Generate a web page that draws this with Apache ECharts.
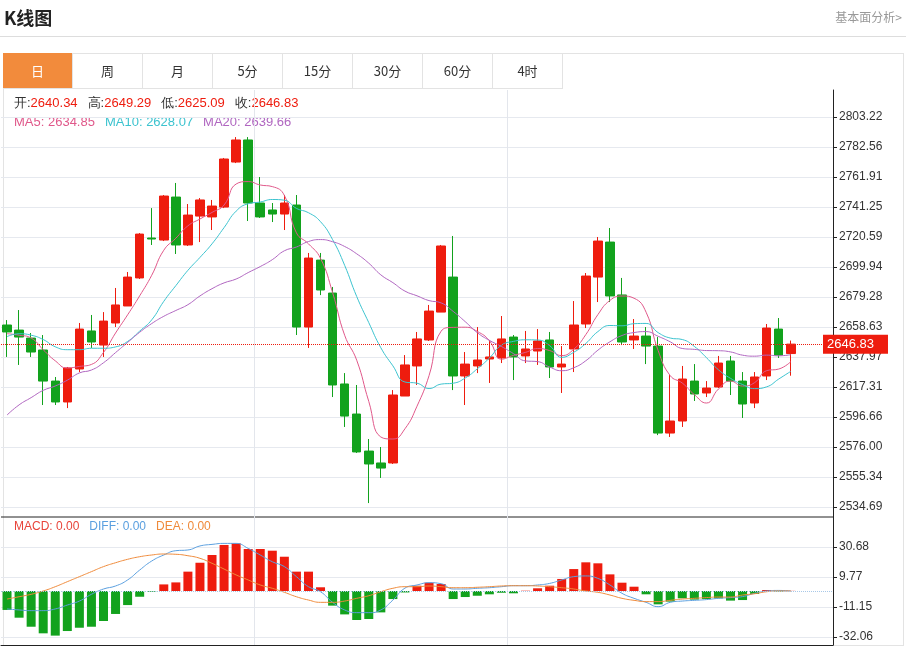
<!DOCTYPE html>
<html>
<head>
<meta charset="utf-8">
<script src="https://cdn.jsdelivr.net/npm/echarts@6/dist/echarts.min.js"></script>
<style>
  body { margin: 0; font-family: "Noto Sans CJK SC", "Microsoft YaHei", sans-serif; background: #fff; }
  #chart { position: absolute; left: 0; top: 0; width: 906px; height: 648px; }
  .title { position: absolute; left: 4px; top: 4px; font-size: 18px; font-weight: bold; color: #222; }
  .more { position: absolute; right: 4px; top: 8px; font-size: 12px; color: #999; }
  .hr { position: absolute; left: 0; top: 36px; width: 906px; border-top: 1px solid #ddd; }
  .box { position: absolute; left: 3px; top: 53px; width: 899px; height: 591px; border: 1px solid #e3e3e3; }
  .tabs { position: absolute; left: 3px; top: 53px; height: 35px; border-bottom: 1px solid #e3e3e3; display: flex; }
  .tabs div { width: 69px; border-right: 1px solid #e3e3e3; text-align: center; line-height: 35px; font-size: 13px; color: #333; }
  .tabs div.on { background: #f28b3c; color: #fff; }
</style>
</head>
<body>
<div class="box"></div>
<div id="chart"></div>
<div class="title">K线图</div>
<div class="more">基本面分析&gt;</div>
<div class="hr"></div>
<div class="tabs">
  <div class="on">日</div><div>周</div><div>月</div><div>5分</div><div>15分</div><div>30分</div><div>60分</div><div>4时</div>
</div>
<script type="text/javascript">
// open, close, low, high
var opens  = [2660.0,2656.5,2651.0,2642.8,2621.4,2607.0,2629.7,2655.9,2646.2,2661.4,2673.1,2692.4,2719.9,2718.5,2748.1,2715.1,2735.0,2734.4,2741.2,2772.2,2787.4,2744.0,2739.2,2736.4,2742.6,2658.6,2704.7,2682.0,2619.4,2598.7,2573.2,2565.0,2565.0,2611.1,2631.8,2649.7,2668.9,2693.0,2624.9,2631.8,2636.6,2637.3,2651.7,2638.7,2642.1,2649.7,2631.1,2643.5,2660.7,2693.0,2717.1,2680.7,2649.7,2652.4,2645.5,2585.6,2593.9,2621.4,2613.2,2617.3,2635.2,2621.4,2606.3,2624.9,2657.2,2640.34];
var closes = [2655.2,2651.7,2641.4,2621.4,2607.0,2630.4,2657.2,2648.3,2662.7,2673.8,2693.0,2722.6,2719.2,2748.8,2715.1,2735.7,2746.1,2741.9,2774.3,2787.4,2744.0,2734.4,2736.4,2744.0,2658.6,2706.1,2684.1,2618.7,2597.3,2572.6,2564.3,2561.5,2611.8,2632.5,2650.4,2669.6,2714.4,2624.9,2633.1,2635.9,2638.0,2650.4,2638.0,2643.5,2649.0,2631.1,2633.1,2660.0,2693.7,2717.8,2680.0,2648.3,2652.4,2645.5,2585.6,2593.9,2622.8,2612.5,2616.6,2633.8,2621.4,2605.6,2624.2,2657.9,2639.3,2646.83];
var lows   = [2638.0,2632.5,2638.0,2604.9,2604.9,2602.8,2627.6,2644.2,2638.0,2658.6,2673.1,2691.7,2715.1,2717.8,2708.9,2714.4,2717.1,2725.4,2740.5,2771.5,2731.6,2733.7,2730.9,2725.4,2653.1,2644.2,2680.6,2610.4,2589.8,2571.9,2537.4,2554.7,2564.3,2611.1,2618.7,2649.0,2668.9,2615.2,2604.9,2626.9,2620.1,2633.8,2622.1,2633.8,2632.5,2623.5,2613.2,2627.6,2657.9,2675.8,2675.8,2646.2,2643.5,2633.1,2584.2,2582.9,2589.8,2607.7,2610.4,2616.6,2611.8,2596.0,2602.8,2622.1,2637.3,2625.09];
var highs  = [2663.4,2670.3,2654.5,2653.1,2624.2,2631.1,2661.4,2666.9,2668.9,2685.5,2696.5,2723.3,2740.5,2749.5,2757.8,2743.3,2747.4,2746.1,2775.0,2789.4,2789.4,2761.9,2744.0,2749.5,2749.5,2709.6,2709.6,2686.2,2626.9,2618.7,2581.5,2576.0,2615.2,2639.3,2655.2,2673.8,2715.1,2721.3,2641.4,2658.6,2649.7,2666.2,2653.1,2655.9,2657.2,2655.2,2645.5,2676.5,2695.8,2720.6,2726.8,2692.4,2664.1,2658.6,2651.7,2625.6,2631.8,2633.1,2621.4,2638.7,2638.7,2627.6,2627.6,2660.7,2664.8,2649.29];
// moving-average values at the left edge (their history lies before the visible window)
var ma5Head  = [2654.0,2653.0,2651.0,2643.0];
var ma10Head = [2652.0,2654.0,2653.0,2650.0,2645.0,2643.0,2643.0,2644.0,2644.0];
var ma20Head = [2598.0,2605.0,2610.0,2615.0,2618.0,2622.0,2627.0,2629.0,2634.0,2641.0,2648.0,2655.0,2661.0,2666.0,2670.0,2674.0,2680.0,2685.0,2689.0];
var macdBars = [-13.2,-18.6,-24.9,-29.5,-31.1,-27.9,-25.6,-24.9,-20.9,-16.0,-9.8,-4.0,-0.5,4.6,6.0,13.5,19.7,25.1,32.1,33.2,29.3,29.3,28.1,23.9,13.5,13.5,2.6,-10.2,-16.3,-20.2,-19.5,-14.9,-5.6,-1.0,3.7,5.8,4.9,-5.6,-4.2,-3.3,-2.3,-1.2,-1.6,0.2,1.9,3.7,8.4,15.3,20.0,19.3,11.6,5.8,3.0,-2.3,-9.3,-7.4,-5.1,-6.0,-5.6,-5.1,-6.7,-6.3,-2.1,0.7,-0.3,0.1];
var diffs = [-12.5,-13.2,-13.7,-13.7,-12.5,-9.8,-7.0,-2.3,1.4,3.5,7.7,14.6,20.9,25.1,28.1,28.6,31.4,32.5,33.2,33.2,29.7,25.1,20.4,17.0,10.0,3.0,-0.5,-7.9,-13.2,-15.1,-15.1,-13.2,-6.3,2.0,4.2,5.8,5.1,1.4,1.4,1.9,2.3,3.0,3.7,3.7,4.2,5.3,7.7,10.0,10.5,8.8,4.2,-1.6,-5.1,-7.9,-10.9,-7.9,-7.0,-6.5,-6.0,-5.1,-4.6,-3.9,-1.6,0.0,0.4,0.0];
var deas = [-5.6,-4.0,-2.3,0.0,3.0,6.5,10.0,13.5,17.0,19.7,22.1,23.9,25.1,25.8,25.6,24.6,22.8,19.3,15.3,11.2,7.7,4.2,1.9,-0.9,-4.0,-6.3,-7.9,-7.9,-7.0,-5.1,-3.3,-0.5,1.9,3.0,3.0,3.5,3.0,2.3,2.3,2.6,3.0,3.5,3.7,3.7,3.5,3.0,2.3,1.4,0.0,-0.9,-2.8,-5.1,-6.5,-7.4,-7.4,-6.5,-5.6,-5.1,-4.6,-4.2,-4.2,-2.8,-1.9,-0.5,0.0,0.0];
var priceTicks = [2534.69,2555.34,2576.00,2596.66,2617.31,2637.97,2658.63,2679.28,2699.94,2720.59,2741.25,2761.91,2782.56,2803.22];
var macdTicks = [-32.06,-11.15,9.77,30.68];
var lastPrice = 2646.83;

var UP = '#ee1c0e', DOWN = '#12a21d';
var n = opens.length, pad = 3;
var cats = [], kdata = [];
for (var i = 0; i < n + pad; i++) {
    cats.push(String(i));
    kdata.push(i < n ? [opens[i], closes[i], lows[i], highs[i]] : '-');
}
function ma(p, head) {
    var out = [];
    for (var i = 0; i < n; i++) {
        if (i < p - 1) { out.push(head[i]); continue; }
        var s = 0;
        for (var j = 0; j < p; j++) s += closes[i - j];
        out.push(+(s / p).toFixed(2));
    }
    return out;
}
var barData = macdBars.map(function (v) {
    return { value: v, itemStyle: { color: v >= 0 ? UP : DOWN } };
});

var chart = echarts.init(document.getElementById('chart'));
var axisCommon = {
    type: 'value', position: 'right', scale: true,
    axisLine: { show: true, lineStyle: { color: '#222' } },
    axisTick: { show: true, length: 4, lineStyle: { color: '#222' } },
    axisLabel: { color: '#333', fontSize: 12, margin: 6, formatter: function (v) { return v.toFixed(2); } },
    splitLine: { show: true, lineStyle: { color: '#e6e9ef' } }
};
var xCommon = {
    type: 'category', data: cats, boundaryGap: true,
    axisLine: { show: false }, axisTick: { show: false }, axisLabel: { show: false },
    splitLine: { show: true, interval: function (i) { return i === 21 || i === 42; }, lineStyle: { color: '#e3e6ec' } }
};
chart.setOption({
    animation: false,
    grid: [
        { left: 1, right: 73, top: 90, height: 427 },
        { left: 1, right: 73, top: 517, height: 128 }
    ],
    xAxis: [
        Object.assign({ gridIndex: 0 }, xCommon),
        Object.assign({ gridIndex: 1 }, xCommon, { axisLine: { show: true, onZero: false, lineStyle: { color: '#222' } } })
    ],
    yAxis: [
        Object.assign({}, axisCommon, {
            gridIndex: 0, min: 2534.69 - 10 * 0.6885, max: 2803.22 + 27 * 0.6885,
            axisTick: Object.assign({}, axisCommon.axisTick, { customValues: priceTicks }),
            axisLabel: Object.assign({}, axisCommon.axisLabel, { customValues: priceTicks })
        }),
        Object.assign({}, axisCommon, {
            gridIndex: 1, min: -32.06 - 8 * 0.697, max: 30.68 + 30 * 0.697,
            axisTick: Object.assign({}, axisCommon.axisTick, { customValues: macdTicks }),
            axisLabel: Object.assign({}, axisCommon.axisLabel, { customValues: macdTicks })
        })
    ],
    graphic: [
        { type: 'line', shape: { x1: 1, y1: 517, x2: 833, y2: 517 }, style: { stroke: '#222', lineWidth: 1 } },
        { type: 'text', left: 14, top: 97, style: { text: '{k|开:}{v|2640.34}   {k|高:}{v|2649.29}   {k|低:}{v|2625.09}   {k|收:}{v|2646.83}',
            rich: { k: { fill: '#333', fontSize: 13 }, v: { fill: UP, fontSize: 13 } } } },
        { type: 'text', left: 14, top: 116, style: { text: '{a|MA5: 2634.85}   {b|MA10: 2628.07}   {c|MA20: 2639.66}',
            rich: { a: { fill: '#e0588a', fontSize: 13 }, b: { fill: '#3cc3cf', fontSize: 13 }, c: { fill: '#b066c0', fontSize: 13 } } } },
        { type: 'text', left: 14, top: 521, style: { text: '{a|MACD: 0.00}   {b|DIFF: 0.00}   {c|DEA: 0.00}',
            rich: { a: { fill: '#e8443a', fontSize: 12 }, b: { fill: '#5a9fdf', fontSize: 12 }, c: { fill: '#ef8a3a', fontSize: 12 } } } }
    ],
    series: [
        {
            type: 'candlestick', xAxisIndex: 0, yAxisIndex: 0, data: kdata, barWidth: 9,
            itemStyle: { color: UP, color0: DOWN, borderColor: UP, borderColor0: DOWN },
            markLine: {
                symbol: 'none', silent: true,
                lineStyle: { color: UP, type: 'dotted', width: 1 },
                label: { position: 'end', formatter: lastPrice.toFixed(2), color: '#fff', backgroundColor: UP,
                    fontSize: 13, padding: [3, 14, 3, 4], distance: -10 },
                data: [{ yAxis: lastPrice }]
            }
        },
        { type: 'line', data: ma(5, ma5Head), symbol: 'none', smooth: true, lineStyle: { width: 1, color: '#e0588a' } },
        { type: 'line', data: ma(10, ma10Head), symbol: 'none', smooth: true, lineStyle: { width: 1, color: '#3cc3cf' } },
        { type: 'line', data: ma(20, ma20Head), symbol: 'none', smooth: true, lineStyle: { width: 1, color: '#b066c0' } },
        {
            type: 'bar', xAxisIndex: 1, yAxisIndex: 1, data: barData, barWidth: 9,
            markLine: { symbol: 'none', silent: true, label: { show: false },
                lineStyle: { color: '#a8c8e8', type: 'dotted', width: 1 }, data: [{ yAxis: 0 }] }
        },
        { type: 'line', xAxisIndex: 1, yAxisIndex: 1, data: diffs, symbol: 'none', smooth: true, lineStyle: { width: 1, color: '#5a9fdf' } },
        { type: 'line', xAxisIndex: 1, yAxisIndex: 1, data: deas, symbol: 'none', smooth: true, lineStyle: { width: 1, color: '#ef8a3a' } }
    ]
});
</script>
</body>
</html>
